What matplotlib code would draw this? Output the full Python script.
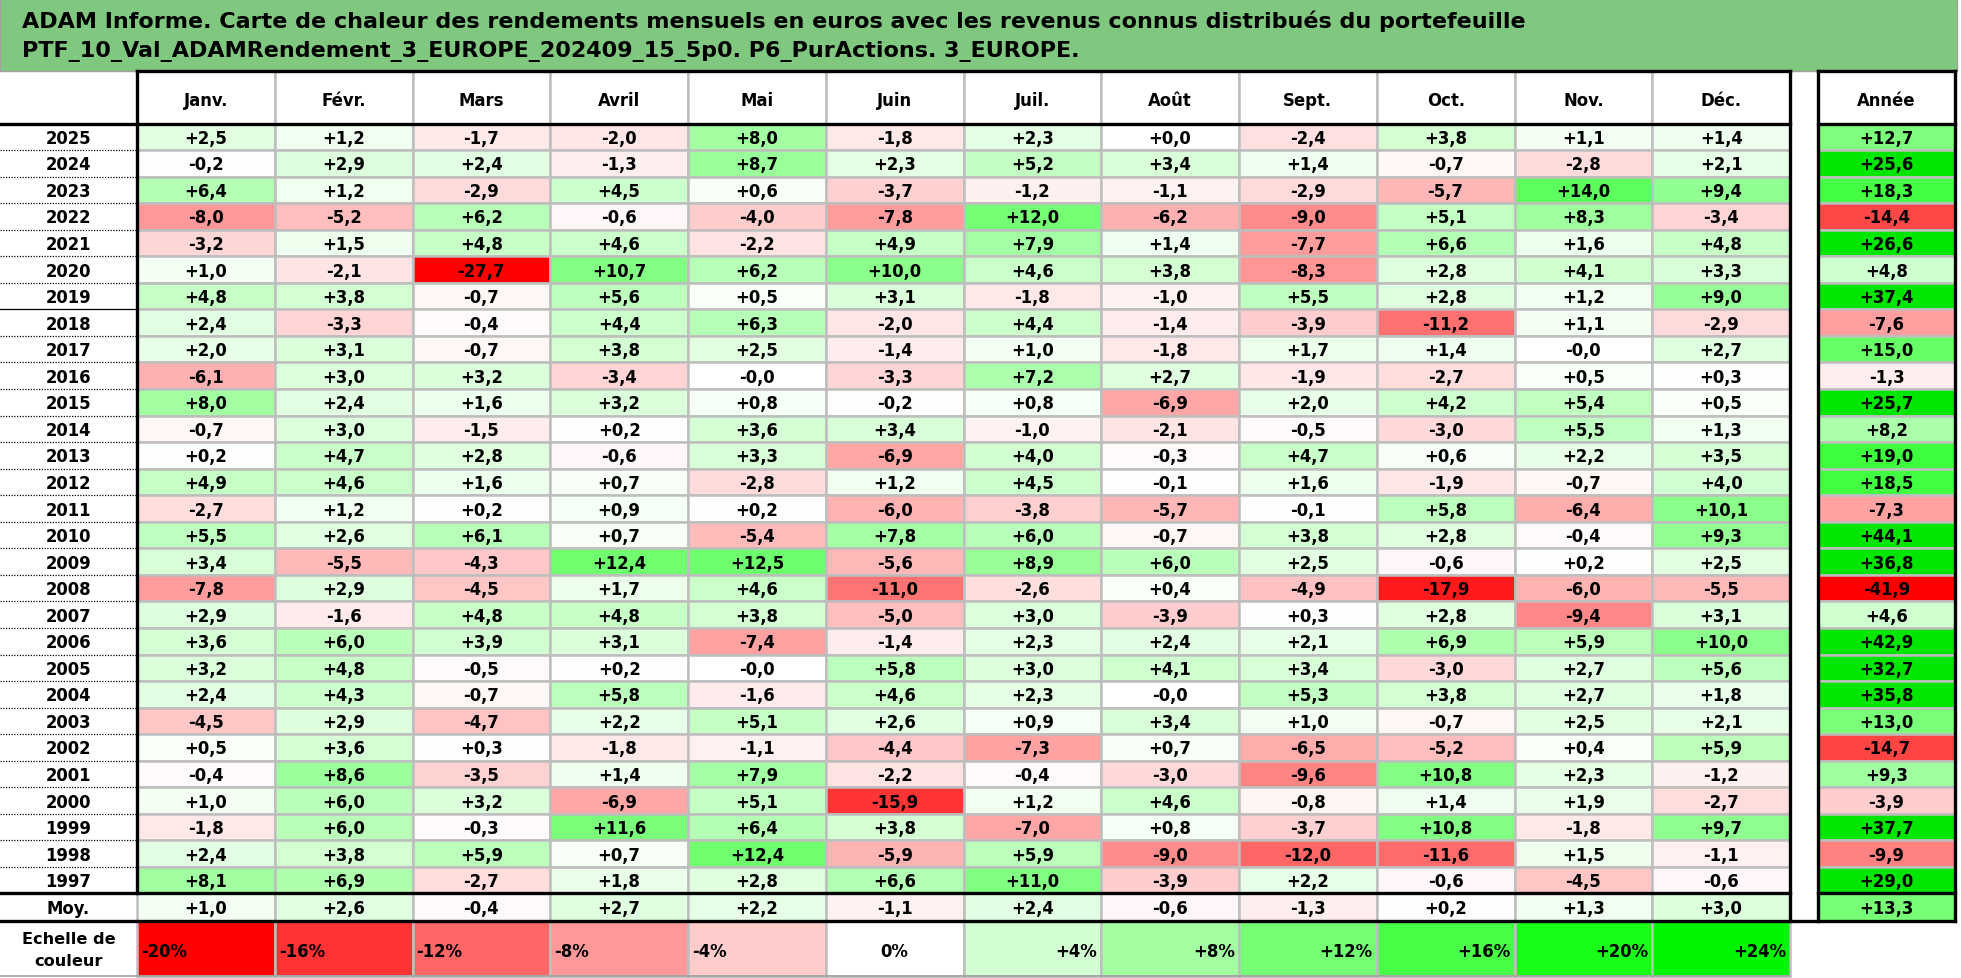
import matplotlib
matplotlib.use("Agg")
import matplotlib.pyplot as plt
from matplotlib.patches import Rectangle

# ---------------- data ----------------
title_lines = [
    "ADAM Informe. Carte de chaleur des rendements mensuels en euros avec les revenus connus distribués du portefeuille",
    "PTF_10_Val_ADAMRendement_3_EUROPE_202409_15_5p0. P6_PurActions. 3_EUROPE.",
]
months = ["Janv.", "Févr.", "Mars", "Avril", "Mai", "Juin", "Juil.", "Août",
          "Sept.", "Oct.", "Nov.", "Déc."]
year_header = "Année"
corner_label = "des Rendement"
years = ["2025", "2024", "2023", "2022", "2021", "2020", "2019", "2018", "2017",
         "2016", "2015", "2014", "2013", "2012", "2011", "2010", "2009", "2008",
         "2007", "2006", "2005", "2004", "2003", "2002", "2001", "2000", "1999",
         "1998", "1997"]
monthly = [
    [2.5, 1.2, -1.7, -2.0, 8.0, -1.8, 2.3, 0.0, -2.4, 3.8, 1.1, 1.4],
    [-0.2, 2.9, 2.4, -1.3, 8.7, 2.3, 5.2, 3.4, 1.4, -0.7, -2.8, 2.1],
    [6.4, 1.2, -2.9, 4.5, 0.6, -3.7, -1.2, -1.1, -2.9, -5.7, 14.0, 9.4],
    [-8.0, -5.2, 6.2, -0.6, -4.0, -7.8, 12.0, -6.2, -9.0, 5.1, 8.3, -3.4],
    [-3.2, 1.5, 4.8, 4.6, -2.2, 4.9, 7.9, 1.4, -7.7, 6.6, 1.6, 4.8],
    [1.0, -2.1, -27.7, 10.7, 6.2, 10.0, 4.6, 3.8, -8.3, 2.8, 4.1, 3.3],
    [4.8, 3.8, -0.7, 5.6, 0.5, 3.1, -1.8, -1.0, 5.5, 2.8, 1.2, 9.0],
    [2.4, -3.3, -0.4, 4.4, 6.3, -2.0, 4.4, -1.4, -3.9, -11.2, 1.1, -2.9],
    [2.0, 3.1, -0.7, 3.8, 2.5, -1.4, 1.0, -1.8, 1.7, 1.4, -0.0, 2.7],
    [-6.1, 3.0, 3.2, -3.4, -0.0, -3.3, 7.2, 2.7, -1.9, -2.7, 0.5, 0.3],
    [8.0, 2.4, 1.6, 3.2, 0.8, -0.2, 0.8, -6.9, 2.0, 4.2, 5.4, 0.5],
    [-0.7, 3.0, -1.5, 0.2, 3.6, 3.4, -1.0, -2.1, -0.5, -3.0, 5.5, 1.3],
    [0.2, 4.7, 2.8, -0.6, 3.3, -6.9, 4.0, -0.3, 4.7, 0.6, 2.2, 3.5],
    [4.9, 4.6, 1.6, 0.7, -2.8, 1.2, 4.5, -0.1, 1.6, -1.9, -0.7, 4.0],
    [-2.7, 1.2, 0.2, 0.9, 0.2, -6.0, -3.8, -5.7, -0.1, 5.8, -6.4, 10.1],
    [5.5, 2.6, 6.1, 0.7, -5.4, 7.8, 6.0, -0.7, 3.8, 2.8, -0.4, 9.3],
    [3.4, -5.5, -4.3, 12.4, 12.5, -5.6, 8.9, 6.0, 2.5, -0.6, 0.2, 2.5],
    [-7.8, 2.9, -4.5, 1.7, 4.6, -11.0, -2.6, 0.4, -4.9, -17.9, -6.0, -5.5],
    [2.9, -1.6, 4.8, 4.8, 3.8, -5.0, 3.0, -3.9, 0.3, 2.8, -9.4, 3.1],
    [3.6, 6.0, 3.9, 3.1, -7.4, -1.4, 2.3, 2.4, 2.1, 6.9, 5.9, 10.0],
    [3.2, 4.8, -0.5, 0.2, -0.0, 5.8, 3.0, 4.1, 3.4, -3.0, 2.7, 5.6],
    [2.4, 4.3, -0.7, 5.8, -1.6, 4.6, 2.3, -0.0, 5.3, 3.8, 2.7, 1.8],
    [-4.5, 2.9, -4.7, 2.2, 5.1, 2.6, 0.9, 3.4, 1.0, -0.7, 2.5, 2.1],
    [0.5, 3.6, 0.3, -1.8, -1.1, -4.4, -7.3, 0.7, -6.5, -5.2, 0.4, 5.9],
    [-0.4, 8.6, -3.5, 1.4, 7.9, -2.2, -0.4, -3.0, -9.6, 10.8, 2.3, -1.2],
    [1.0, 6.0, 3.2, -6.9, 5.1, -15.9, 1.2, 4.6, -0.8, 1.4, 1.9, -2.7],
    [-1.8, 6.0, -0.3, 11.6, 6.4, 3.8, -7.0, 0.8, -3.7, 10.8, -1.8, 9.7],
    [2.4, 3.8, 5.9, 0.7, 12.4, -5.9, 5.9, -9.0, -12.0, -11.6, 1.5, -1.1],
    [8.1, 6.9, -2.7, 1.8, 2.8, 6.6, 11.0, -3.9, 2.2, -0.6, -4.5, -0.6],
]
annual = [12.7, 25.6, 18.3, -14.4, 26.6, 4.8, 37.4, -7.6, 15.0, -1.3, 25.7, 8.2,
          19.0, 18.5, -7.3, 44.1, 36.8, -41.9, 4.6, 42.9, 32.7, 35.8, 13.0, -14.7,
          9.3, -3.9, 37.7, -9.9, 29.0]
avg_label = "Moy."
avg_monthly = [1.0, 2.6, -0.4, 2.7, 2.2, -1.1, 2.4, -0.6, -1.3, 0.2, 1.3, 3.0]
avg_annual = 13.3
scale_label = "Echelle de\ncouleur"
scale_values = [-20, -16, -12, -8, -4, 0, 4, 8, 12, 16, 20, 24]
scale_hidden = "des\nrendements"

# ---------------- styling ----------------
plt.rcParams["font.family"] = ["DejaVu Sans"]
W, H = 1961, 979
X_FIRST = 137.0
CW = 137.75
X_MEND = X_FIRST + 12 * CW
XA0, XA1 = 1818.0, 1955.0
Y_TOP = 72.0
Y_HEAD = 124.5
RH = 26.55
Y_AVG = Y_HEAD + len(years) * RH
Y_AVG_END = Y_AVG + 27.5
Y_LEG_END = 977.0
GRID = "#BEBEBE"
GLW = 1.8
THICK = 2.4
FS = 11.9
WT = "bold"
CAP = 0.73 * FS * 100 / 72  # cap height in px
BASE_OFF = CAP / 2


def month_color(v):
    if v < 0:
        t = min(-v / 20.0, 1.0)
        return (1.0, 1 - t, 1 - t)
    if v <= 22:
        t = v / 22.0
        return (1 - t, 1.0, 1 - t)
    return (0.0, max(0.9, 1 - (v - 22) * 0.02), 0.0)


def annual_color(v):
    if v < 0:
        t = min(-v / 20.0, 1.0)
        return (1.0, 1 - t, 1 - t)
    if v <= 25:
        t = v / 25.0
        return (1 - t, 1.0, 1 - t)
    return (0.0, 0.9, 0.0)


def fmt(v):
    return format(v, "+.1f").replace(".", ",")


def ctext(x, yc, s, **kw):
    kw.setdefault("fontsize", FS)
    kw.setdefault("weight", WT)
    kw.setdefault("ha", "center")
    return ax.text(x, yc + BASE_OFF, s, va="baseline", **kw)


fig = plt.figure(figsize=(W / 100, H / 100), dpi=100)
ax = fig.add_axes([0, 0, 1, 1])
ax.set_xlim(0, W)
ax.set_ylim(H, 0)
ax.axis("off")

# title band
ax.add_patch(Rectangle((0, 0), 1957, Y_TOP, facecolor="#80C880",
                       edgecolor="#A0A0A0", lw=1.0))
probe = ax.text(22, 28, title_lines[0][:34], fontsize=15, weight=WT,
                va="baseline", ha="left")
fig.canvas.draw()
tfs = 15 * 458.0 / probe.get_window_extent().width
probe.remove()
ax.text(22, 28.5, title_lines[0], fontsize=tfs, weight=WT, va="baseline",
        ha="left", color="black")
ax.text(22, 57.5, title_lines[1], fontsize=tfs, weight=WT, va="baseline",
        ha="left", color="black")

# header
for i, m in enumerate(months):
    x = X_FIRST + i * CW
    ax.add_patch(Rectangle((x, Y_TOP), CW, Y_HEAD - Y_TOP, facecolor="white",
                           edgecolor=GRID, lw=GLW))
    ctext(x + CW / 2, (Y_TOP + Y_HEAD) / 2 + 2, m)
ctext((XA0 + XA1) / 2, (Y_TOP + Y_HEAD) / 2 + 2, year_header)
ax.text(X_FIRST - 4, (Y_TOP + Y_HEAD) / 2, corner_label, fontsize=FS,
        color="white", ha="right", va="center", clip_on=True)

# data rows
for r, (yr, vals, a) in enumerate(zip(years, monthly, annual)):
    y = Y_HEAD + r * RH
    ctext(X_FIRST / 2, y + RH / 2, yr)
    for i, v in enumerate(vals):
        x = X_FIRST + i * CW
        ax.add_patch(Rectangle((x, y), CW, RH, facecolor=month_color(v),
                               edgecolor=GRID, lw=GLW))
        ctext(x + CW / 2, y + RH / 2, fmt(v))
    ax.add_patch(Rectangle((XA0, y), XA1 - XA0, RH, facecolor=annual_color(a),
                           edgecolor=GRID, lw=GLW))
    ctext((XA0 + XA1) / 2, y + RH / 2, fmt(a))
    if r > 0:
        ls = "-" if yr == "2018" else (0, (1, 1.2))
        ax.plot([0, X_FIRST], [y, y], color="black", lw=0.9, linestyle=ls)

# average row
ym_avg = (Y_AVG + Y_AVG_END) / 2
ctext(X_FIRST / 2, ym_avg, avg_label)
for i, v in enumerate(avg_monthly):
    x = X_FIRST + i * CW
    ax.add_patch(Rectangle((x, Y_AVG), CW, Y_AVG_END - Y_AVG,
                           facecolor=month_color(v), edgecolor=GRID, lw=GLW))
    ctext(x + CW / 2, ym_avg, fmt(v))
ax.add_patch(Rectangle((XA0, Y_AVG), XA1 - XA0, Y_AVG_END - Y_AVG,
                       facecolor=annual_color(avg_annual), edgecolor=GRID, lw=GLW))
ctext((XA0 + XA1) / 2, ym_avg, fmt(avg_annual))

# colour scale row
ym = (Y_AVG_END + Y_LEG_END) / 2
ax.text(X_FIRST / 2, ym + 1, scale_label, fontsize=FS - 0.3, weight=WT,
        ha="center", va="center", linespacing=1.65)
for i, v in enumerate(scale_values):
    x = X_FIRST + i * CW
    ax.add_patch(Rectangle((x, Y_AVG_END), CW, Y_LEG_END - Y_AVG_END,
                           facecolor=month_color(v), edgecolor=GRID, lw=GLW))
    lab = ("+" if v > 0 else "") + f"{v}%"
    if v < 0:
        ctext(x + 4, ym + 1, lab, ha="left", weight="semibold")
    elif v == 0:
        ctext(x + CW / 2, ym + 1, lab)
    else:
        ctext(x + CW - 4, ym + 1, lab, ha="right")
ax.text((XA0 + XA1) / 2, ym, scale_hidden, fontsize=FS - 2, color="white",
        ha="center", va="center", linespacing=1.6)
ax.plot([0, X_MEND], [Y_LEG_END, Y_LEG_END], color="#A0A0A0", lw=1.2)

# thick borders
k = dict(color="black", lw=THICK, solid_capstyle="projecting")
ax.plot([X_FIRST, X_MEND], [Y_TOP, Y_TOP], **k)
ax.plot([0, X_MEND], [Y_HEAD, Y_HEAD], **k)
ax.plot([0, X_MEND], [Y_AVG, Y_AVG], **k)
ax.plot([0, XA1], [Y_AVG_END, Y_AVG_END], **k)
ax.plot([X_FIRST, X_FIRST], [Y_TOP, Y_AVG], **k)
ax.plot([X_MEND, X_MEND], [Y_TOP, Y_AVG_END], **k)
ax.plot([XA0, XA1], [Y_TOP, Y_TOP], **k)
ax.plot([XA0, XA1], [Y_HEAD, Y_HEAD], **k)
ax.plot([XA0, XA1], [Y_AVG, Y_AVG], **k)
ax.plot([XA0, XA0], [Y_TOP, Y_AVG_END], **k)
ax.plot([XA1, XA1], [Y_TOP, Y_AVG_END], **k)

fig.savefig("out.png", dpi=100)
